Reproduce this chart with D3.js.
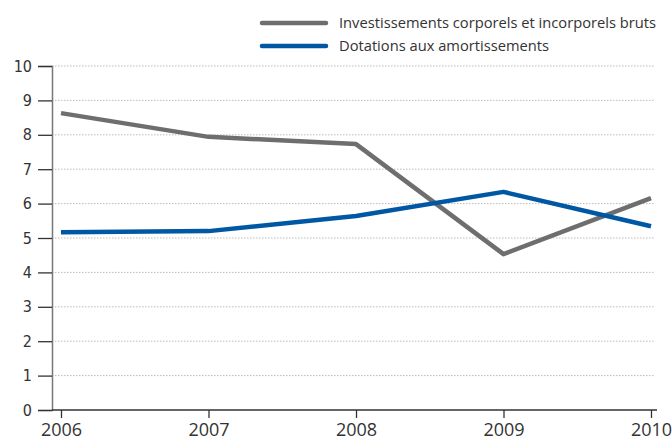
<!DOCTYPE html>
<html>
<head>
<meta charset="utf-8">
<script src="https://cdn.jsdelivr.net/npm/d3@7"></script>
<style>
  body { margin: 0; background: #fff; }
  svg text { font-family: "Open Sans", "DejaVu Sans", sans-serif; fill: #333; }
</style>
</head>
<body>
<div id="chart"></div>
<script>
const years = [2006, 2007, 2008, 2009, 2010];
const investissements = [8.63, 7.94, 7.73, 4.53, 6.16];
const dotations = [5.17, 5.20, 5.64, 6.34, 5.34];
const yTicks = [0, 1, 2, 3, 4, 5, 6, 7, 8, 9, 10];
const seriesNames = ["Investissements corporels et incorporels bruts", "Dotations aux amortissements"];
const seriesColors = ["#6e6e6e", "#0057a3"];

const width = 672, height = 440;
const svg = d3.select("#chart").append("svg")
    .attr("width", width)
    .attr("height", height);

const x = d3.scaleLinear().domain([2006, 2010]).range([61, 651]);
const y = d3.scaleLinear().domain([0, 10]).range([410, 66]);

// gridlines
svg.append("g")
   .selectAll("line")
   .data(yTicks.filter(d => d > 0))
   .join("line")
   .attr("x1", 52).attr("x2", 655)
   .attr("y1", d => y(d)).attr("y2", d => y(d))
   .attr("stroke", "#bbb")
   .attr("stroke-width", 1)
   .attr("stroke-dasharray", "1.5,1.5");

// y axis
const yAxis = svg.append("g")
    .attr("transform", "translate(52,0)")
    .call(d3.axisLeft(y).tickValues(yTicks).tickSize(14).tickPadding(6).tickFormat(d3.format("d")));
yAxis.select(".domain").attr("stroke", "#777").attr("stroke-width", 1.5);
yAxis.selectAll(".tick line").attr("stroke", "#333").attr("stroke-width", 1.3);
yAxis.selectAll("text")
    .style("font-family", "'Liberation Sans Narrow', 'DejaVu Sans Condensed', sans-serif")
    .style("font-size", "16px").attr("fill", "#333");

// x axis
const xAxis = svg.append("g")
    .attr("transform", "translate(0,410)")
    .call(d3.axisBottom(x).tickValues(years).tickSize(8).tickPadding(5).tickFormat(d3.format("d")));
xAxis.select(".domain").attr("d", "M52,0H657").attr("stroke", "#333").attr("stroke-width", 1.5);
xAxis.selectAll(".tick line").attr("stroke", "#333").attr("stroke-width", 1.3);
xAxis.selectAll("text").style("font-size", "18px").attr("fill", "#333");

// lines
const line = d3.line()
    .x((d, i) => x(years[i]))
    .y(d => y(d));

[investissements, dotations].forEach((s, i) => {
  svg.append("path")
     .datum(s)
     .attr("fill", "none")
     .attr("stroke", seriesColors[i])
     .attr("stroke-width", 4.5)
     .attr("stroke-linejoin", "round")
     .attr("d", line);
});

// legend
const legend = svg.append("g")
   .selectAll("g")
   .data(seriesNames)
   .join("g")
   .attr("transform", (d, i) => `translate(262,${23 + i * 23})`);
legend.append("line")
   .attr("x1", 0).attr("x2", 64)
   .attr("stroke", (d, i) => seriesColors[i])
   .attr("stroke-width", 4.5)
   .attr("stroke-linecap", "round");
legend.append("text")
   .attr("x", 77).attr("dy", "0.35em")
   .style("font-size", "14.7px")
   .attr("fill", "#444")
   .text(d => d);
</script>
</body>
</html>
